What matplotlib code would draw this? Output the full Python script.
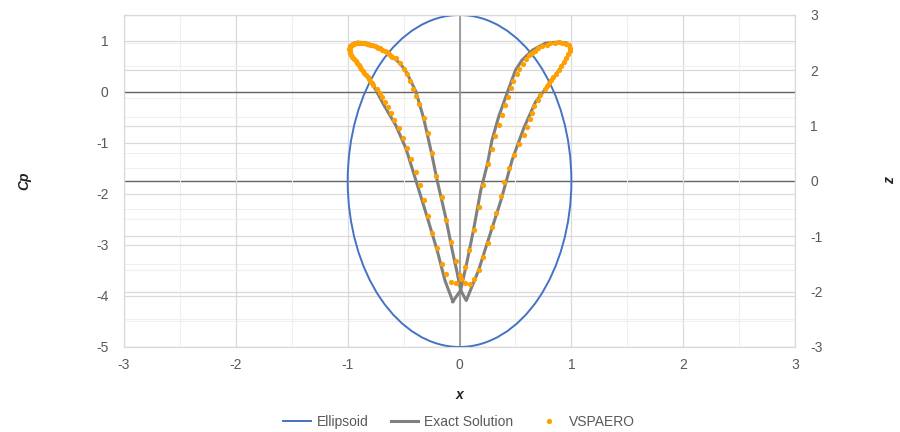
import numpy as np
import matplotlib
matplotlib.use("Agg")
import matplotlib.pyplot as plt
from matplotlib.patches import Ellipse
from matplotlib.lines import Line2D

plt.rcParams['font.family'] = ['Liberation Sans', 'DejaVu Sans']
plt.rcParams['axes.unicode_minus'] = False

# ellipsoid cross-section (secondary axis, z)
ellipse_center = (0.0, 0.0)
ellipse_semi_x = 1.0
ellipse_semi_z = 3.0

# exact solution, closed curve of Cp vs x
exact_x = [-0.06, -0.13, -0.20, -0.29, -0.41, -0.48, -0.57, -0.68, -0.78, -0.86,
           -0.93, -0.975, -0.985, -0.955, -0.91, -0.83, -0.71, -0.62, -0.53, -0.47,
           -0.39, -0.32, -0.25, -0.20, -0.125, -0.065, -0.02, 0.01, 0.06, 0.17,
           0.25, 0.37, 0.47, 0.575, 0.68, 0.75, 0.83, 0.92, 0.98, 0.99,
           0.96, 0.89, 0.77, 0.65, 0.56, 0.50, 0.43, 0.35, 0.29, 0.25,
           0.19, 0.13, 0.07, 0.01, -0.06]
exact_cp = [-4.11, -3.70, -3.11, -2.45, -1.60, -1.11, -0.66, -0.25, 0.16, 0.39,
            0.61, 0.77, 0.88, 0.94, 0.97, 0.95, 0.85, 0.72, 0.55, 0.36,
            0.0, -0.53, -1.21, -1.74, -2.45, -3.11, -3.56, -3.89, -4.09, -3.50,
            -2.95, -2.13, -1.34, -0.71, -0.20, 0.0, 0.23, 0.52, 0.74, 0.86,
            0.95, 0.97, 0.95, 0.81, 0.62, 0.42, 0.0, -0.49, -0.95, -1.41,
            -1.93, -2.65, -3.30, -3.89, -4.11]

# VSPAERO, left stagnation loop
loop_left_x = [-0.77, -0.785, -0.80, -0.81, -0.82, -0.835, -0.85, -0.865, -0.88, -0.89,
               -0.90, -0.915, -0.93, -0.945, -0.96, -0.97, -0.975, -0.98, -0.985, -0.98,
               -0.975, -0.965, -0.955, -0.94, -0.93, -0.915, -0.90, -0.885, -0.87, -0.85,
               -0.83, -0.815, -0.80, -0.78, -0.76, -0.74, -0.725, -0.71, -0.69, -0.67,
               -0.65, -0.64, -0.63, -0.615, -0.60]
loop_left_cp = [0.13, 0.17, 0.21, 0.245, 0.28, 0.32, 0.36, 0.40, 0.44, 0.48,
                0.52, 0.56, 0.60, 0.64, 0.68, 0.72, 0.75, 0.79, 0.83, 0.86,
                0.89, 0.91, 0.93, 0.94, 0.95, 0.955, 0.96, 0.955, 0.95, 0.945,
                0.94, 0.93, 0.92, 0.905, 0.89, 0.875, 0.86, 0.845, 0.82, 0.80,
                0.77, 0.75, 0.73, 0.705, 0.68]

inner_left_x = [-0.565, -0.535, -0.50, -0.47, -0.445, -0.415, -0.39, -0.36, -0.32, -0.28,
                -0.25, -0.21, -0.16, -0.12, -0.08, -0.035, 0.0]
inner_left_cp = [0.66, 0.56, 0.45, 0.34, 0.21, 0.06, -0.09, -0.25, -0.51, -0.81,
                 -1.21, -1.66, -2.07, -2.52, -2.95, -3.32, -3.59]

outer_left_x = [-0.74, -0.71, -0.69, -0.665, -0.64, -0.61, -0.585, -0.545, -0.51, -0.47,
                -0.43, -0.39, -0.355, -0.32, -0.28, -0.245, -0.20, -0.16, -0.12, -0.08,
                -0.035]
outer_left_cp = [0.06, -0.02, -0.10, -0.20, -0.30, -0.42, -0.56, -0.72, -0.90, -1.10,
                 -1.32, -1.57, -1.83, -2.13, -2.44, -2.76, -3.07, -3.37, -3.58, -3.73,
                 -3.75]

# VSPAERO, right side
outer_right_x = [0.01, 0.05, 0.09, 0.13, 0.17, 0.21, 0.25, 0.29, 0.33, 0.37,
                 0.40, 0.44, 0.49, 0.53, 0.575, 0.60, 0.63, 0.65, 0.67, 0.70,
                 0.72, 0.76]
outer_right_cp = [-3.66, -3.74, -3.76, -3.67, -3.49, -3.24, -2.96, -2.66, -2.37, -2.05,
                  -1.77, -1.49, -1.25, -1.03, -0.84, -0.69, -0.54, -0.41, -0.28, -0.17,
                  -0.06, 0.05]

loop_right_x = [0.78, 0.80, 0.82, 0.84, 0.86, 0.885, 0.91, 0.93, 0.95, 0.97,
                0.985, 0.99, 0.975, 0.95, 0.92, 0.885, 0.85, 0.81, 0.78, 0.74,
                0.705, 0.675, 0.65]
loop_right_cp = [0.10, 0.16, 0.22, 0.28, 0.35, 0.42, 0.50, 0.58, 0.66, 0.73,
                 0.79, 0.86, 0.91, 0.94, 0.96, 0.965, 0.96, 0.945, 0.92, 0.89,
                 0.85, 0.80, 0.755]

inner_right_x = [0.625, 0.595, 0.565, 0.535, 0.51, 0.48, 0.46, 0.435, 0.41, 0.38,
                 0.35, 0.32, 0.29, 0.25, 0.21, 0.17, 0.13, 0.085, 0.045]
inner_right_cp = [0.71, 0.63, 0.55, 0.45, 0.34, 0.21, 0.07, -0.10, -0.26, -0.45,
                  -0.65, -0.86, -1.12, -1.41, -1.82, -2.26, -2.70, -3.10, -3.44]

x_ticks = [-3, -2, -1, 0, 1, 2, 3]
cp_ticks = [-5, -4, -3, -2, -1, 0, 1]
z_ticks = [-3, -2, -1, 0, 1, 2, 3]

BLUE = '#4472c4'
GRAY = '#808080'
ORANGE = '#ff9f00'
TXT = '#595959'

vsp_x = loop_left_x + inner_left_x + outer_left_x + outer_right_x + loop_right_x + inner_right_x
vsp_cp = loop_left_cp + inner_left_cp + outer_left_cp + outer_right_cp + loop_right_cp + inner_right_cp

fig = plt.figure(figsize=(9, 4.32), dpi=100)
ax = fig.add_axes([0.1378, 0.1968, 0.7456, 0.7685])
ax2 = ax.twinx()

# primary axes drawn above the secondary one so the curves sit on top
ax.set_zorder(2)
ax2.set_zorder(1)
ax.patch.set_visible(False)

ax.set_xlim(-3, 3)
ax.set_ylim(-5, 1.5)
ax2.set_ylim(-3, 3)
ax.set_xticks(x_ticks)
ax.set_xticks(np.arange(-3, 3.01, 0.5), minor=True)
ax.set_yticks(cp_ticks)
ax.set_yticks(np.arange(-5, 1.51, 0.5), minor=True)
ax2.set_yticks(z_ticks)
ax2.set_yticks(np.arange(-3, 3.01, 0.5), minor=True)

ax.grid(which='major', color='#d9d9d9', lw=0.9)
ax.grid(which='minor', color='#efefef', lw=0.8)
ax2.yaxis.grid(True, which='major', color='#d9d9d9', lw=0.9)
ax2.yaxis.grid(True, which='minor', color='#efefef', lw=0.8)
ax.set_axisbelow(True)
ax2.set_axisbelow(True)

ax.axhline(0, color='#666666', lw=1.0, zorder=1)
ax2.axhline(0, color='#666666', lw=1.0, zorder=1)
ax.axvline(0, color='#999999', lw=1.3, zorder=1)

# ellipse lives in z units but is drawn in the top axes, above the grids
ax.add_patch(Ellipse(ellipse_center, 2 * ellipse_semi_x, 2 * ellipse_semi_z,
                     transform=ax2.transData, fill=False, edgecolor=BLUE,
                     lw=1.4, zorder=2))

ax.plot(exact_x, exact_cp, color=GRAY, lw=2.2, zorder=3)
ax.plot(vsp_x, vsp_cp, ls='none', marker='o', ms=3.8, mew=0, color=ORANGE, zorder=4)

for a in (ax, ax2):
    for s in a.spines.values():
        s.set_color('#d9d9d9')
        s.set_linewidth(0.8)
ax.tick_params(axis='both', which='both', length=0, labelsize=10, labelcolor=TXT)
ax.tick_params(axis='y', pad=11)
ax.tick_params(axis='x', pad=8)
ax2.tick_params(axis='y', which='both', length=0, labelsize=10, labelcolor=TXT, pad=11)

lab = dict(fontsize=10, fontstyle='italic', fontweight='bold', color='#222222')
ax.set_ylabel('Cp', **lab)
ax.yaxis.set_label_coords(-0.1386, 0.5)
ax.set_xlabel('x', **lab)
ax.xaxis.set_label_coords(0.5, -0.124)
ax2.set_ylabel('z', rotation=90, **lab)
ax2.yaxis.set_label_coords(1.131, 0.5)

handles = [Line2D([], [], color=BLUE, lw=1.4),
           Line2D([], [], color=GRAY, lw=2.2),
           Line2D([], [], ls='none', marker='o', ms=3.8, mew=0, color=ORANGE)]
fig.legend(handles, ['Ellipsoid', 'Exact Solution', 'VSPAERO'], loc='center',
           bbox_to_anchor=(0.51, 0.024), ncol=3, frameon=False, fontsize=10,
           labelcolor=TXT, handlelength=2.0, columnspacing=1.6, handletextpad=0.4)

fig.savefig('out.png', dpi=100)
